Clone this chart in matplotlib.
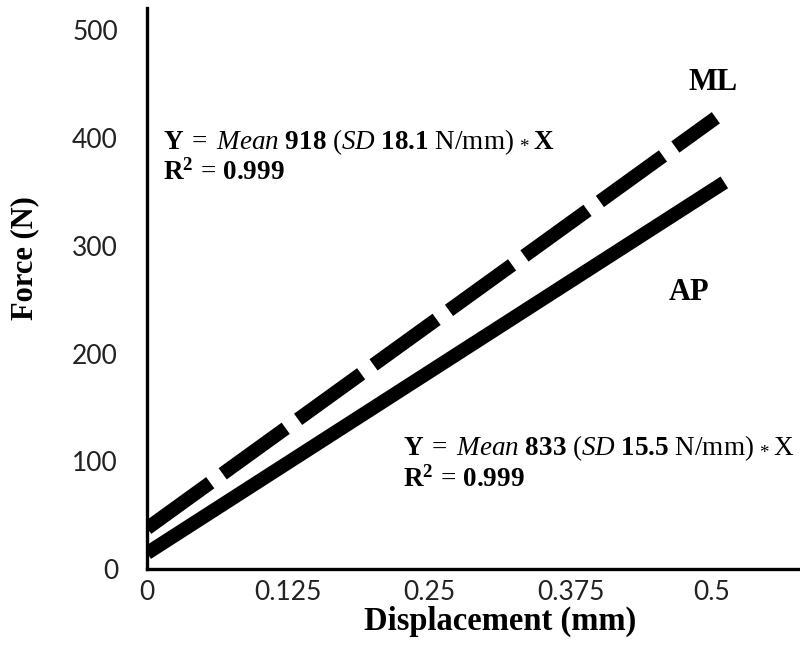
import matplotlib.pyplot as plt

# Force-displacement fits
disp_ml = [0, 0.5035]
force_ml = [38, 419]
disp_ap = [0, 0.511]
force_ap = [15, 359]

x_ticks = [0, 0.125, 0.25, 0.375, 0.5]
x_tick_labels = ['0', '0.125', '0.25', '0.375', '0.5']
y_ticks = [0, 100, 200, 300, 400, 500]

plt.rcParams['mathtext.fontset'] = 'custom'
plt.rcParams['mathtext.rm'] = 'Liberation Serif'
plt.rcParams['mathtext.it'] = 'Liberation Serif:italic'
plt.rcParams['mathtext.bf'] = 'Liberation Serif:bold'

fig = plt.figure(figsize=(8, 6.55), dpi=100)
ax = fig.add_axes([0.184, 0.131, 0.816, 0.857])

ax.plot(disp_ml, force_ml, color='black', lw=10, dashes=(5.6, 1.1),
        solid_capstyle='butt', dash_capstyle='butt')
ax.plot(disp_ap, force_ap, color='black', lw=10, solid_capstyle='butt')

ax.set_xlim(0, 0.578)
ax.set_ylim(0, 521)
ax.set_xticks(x_ticks)
ax.set_xticklabels(x_tick_labels)
ax.set_yticks(y_ticks)

for s in ['top', 'right']:
    ax.spines[s].set_visible(False)
for s in ['left', 'bottom']:
    ax.spines[s].set_linewidth(2.4)
    ax.spines[s].set_color('black')

ax.tick_params(axis='y', length=0, pad=21, labelsize=19, labelcolor='#222222')
ax.tick_params(axis='x', length=0, pad=8, labelsize=19, labelcolor='#222222')
for lab in ax.get_xticklabels() + ax.get_yticklabels():
    lab.set_fontfamily('Lato')

ax.set_ylabel('Force (N)', fontfamily='Liberation Serif', fontweight='bold',
              fontsize=22, va='center')
ax.yaxis.set_label_coords(-0.187, 0.554)
ax.set_xlabel('Displacement (mm)', fontfamily='Liberation Serif',
              fontweight='bold', fontsize=23.5, va='center')
ax.xaxis.set_label_coords(0.54, -0.093)

eq_ml = (r'$\mathbf{Y}\;=\;\mathit{Mean}\ \mathbf{918}\ \mathrm{(}\mathit{SD}\ '
         r'\mathbf{18.1}\ \mathrm{N/mm)}\ {}_{*}\,\mathbf{X}$')
eq_ap = (r'$\mathbf{Y}\;=\;\mathit{Mean}\ \mathbf{833}\ \mathrm{(}\mathit{SD}\ '
         r'\mathbf{15.5}\ \mathrm{N/mm)}\ {}_{*}\,\mathrm{X}$')
r2 = r'$\mathbf{R^{2}}\,=\,\mathbf{0.999}$'

ax.text(0.014, 396, eq_ml, fontsize=19.5, va='center', ha='left')
ax.text(0.014, 368, r2, fontsize=19.5, va='center', ha='left')
ax.text(0.2265, 112, eq_ap, fontsize=19.5, va='center', ha='left')
ax.text(0.2265, 83, r2, fontsize=19.5, va='center', ha='left')

ax.text(0.501, 452, 'ML', fontfamily='Liberation Serif', fontweight='bold',
        fontsize=22, ha='center', va='center')
ax.text(0.48, 257, 'AP', fontfamily='Liberation Serif', fontweight='bold',
        fontsize=22, ha='center', va='center')

fig.savefig('out.png', dpi=100)
